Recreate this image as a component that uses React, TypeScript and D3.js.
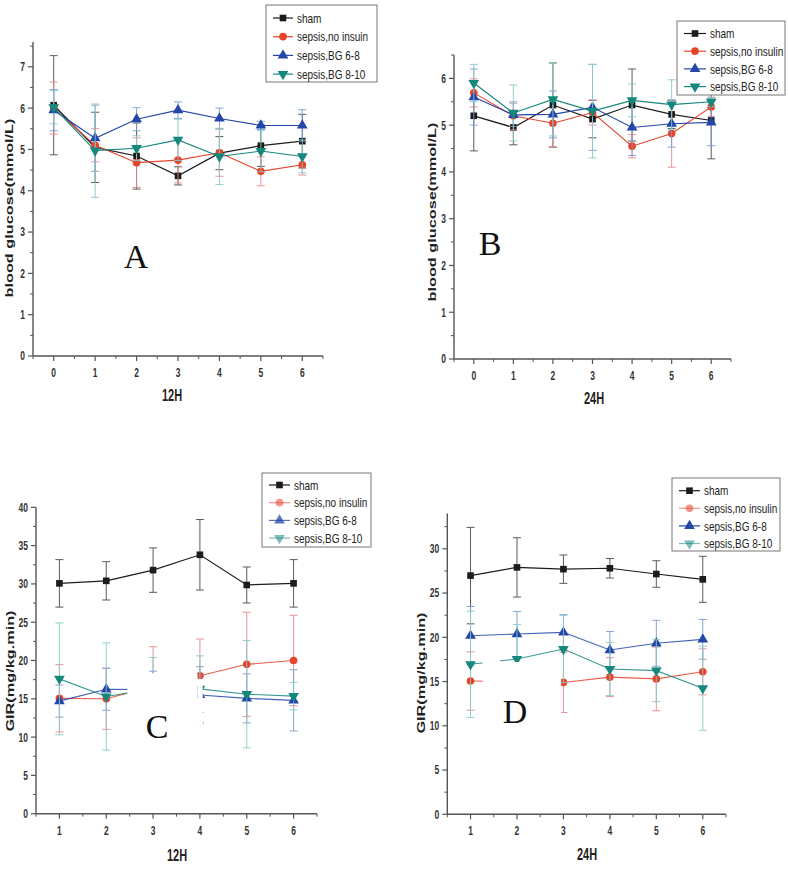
import React from 'react';
import * as d3 from 'd3';

// ---------- DATA ----------
const SERIES_NAMES_A = ['sham', 'sepsis,no insuin', 'sepsis,BG 6-8', 'sepsis,BG 8-10'];
const SERIES_NAMES = ['sham', 'sepsis,no insulin', 'sepsis,BG 6-8', 'sepsis,BG 8-10'];

// Panel A: blood glucose, 12H
const A_X = [0, 1, 2, 3, 4, 5, 6];
const A_SHAM = [6.07, 5.05, 4.84, 4.36, 4.91, 5.09, 5.2];
const A_SHAM_SD = [1.2, 0.85, 0.8, 0.22, 0.4, 0.5, 0.65];
const A_NOINS = [6.0, 5.1, 4.68, 4.74, 4.92, 4.47, 4.63];
const A_NOINS_SD = [0.63, 0.4, 0.6, 0.55, 0.57, 0.35, 0.25];
const A_BG68 = [5.95, 5.27, 5.73, 5.95, 5.75, 5.58, 5.58];
const A_BG68_SD = [0.5, 0.8, 0.28, 0.2, 0.25, 0.1, 0.38];
const A_BG810 = [6.02, 4.97, 5.03, 5.23, 4.83, 4.96, 4.83];
const A_BG810_SD = [0.4, 1.13, 0.3, 0.5, 0.68, 0.5, 0.4];
const A_Y_TICKS = [0, 1, 2, 3, 4, 5, 6, 7];
const A_X_TICKS = [0, 1, 2, 3, 4, 5, 6];

// Panel B: blood glucose, 24H
const B_X = [0, 1, 2, 3, 4, 5, 6];
const B_SHAM = [5.2, 4.95, 5.43, 5.13, 5.43, 5.23, 5.1];
const B_SHAM_SD = [0.75, 0.37, 0.9, 0.4, 0.77, 0.3, 0.82];
const B_NOINS = [5.69, 5.2, 5.04, 5.27, 4.55, 4.82, 5.39];
const B_NOINS_SD = [0.3, 0.3, 0.5, 0.27, 0.25, 0.72, 0.2];
const B_BG68 = [5.6, 5.22, 5.23, 5.38, 4.95, 5.03, 5.06];
const B_BG68_SD = [0.6, 0.25, 0.5, 0.92, 0.6, 0.5, 0.5];
const B_BG810 = [5.9, 5.26, 5.55, 5.3, 5.53, 5.44, 5.5];
const B_BG810_SD = [0.4, 0.6, 0.78, 1.0, 0.35, 0.53, 0.1];
const B_Y_TICKS = [0, 1, 2, 3, 4, 5, 6];
const B_X_TICKS = [0, 1, 2, 3, 4, 5, 6];

// Panel C: GIR, 12H
const C_X = [1, 2, 3, 4, 5, 6];
const C_SHAM = [30.07, 30.4, 31.8, 33.8, 29.86, 30.07];
const C_SHAM_SD = [3.1, 2.5, 2.9, 4.6, 2.35, 3.1];
const C_NOINS = [15.06, 15.0, 16.6, 18.0, 19.5, 20.0];
const C_NOINS_SD = [4.4, 4.0, 5.2, 4.8, 6.8, 5.9];
const C_BG68 = [14.7, 16.24, 16.2, 15.5, 15.06, 14.8];
const C_BG68_SD = [2.1, 2.75, 2.4, 3.7, 3.2, 4.0];
const C_BG810 = [17.6, 15.3, 16.3, 16.3, 15.6, 15.35];
const C_BG810_SD = [7.3, 7.0, 4.1, 4.3, 7.0, 1.8];
const C_Y_TICKS = [0, 5, 10, 15, 20, 25, 30, 35, 40];
const C_X_TICKS = [1, 2, 3, 4, 5, 6];
// regions blanked out in the original figure (data units: x range, y range)
const C_ERASED = [
  { x: [2.45, 3.95], y: [10.3, 18.3] },
  { x: [3.95, 4.06], y: [10.3, 17.55] },
];

// Panel D: GIR, 24H
const D_X = [1, 2, 3, 4, 5, 6];
const D_SHAM = [26.97, 27.9, 27.7, 27.8, 27.15, 26.55];
const D_SHAM_SD = [5.45, 3.35, 1.6, 1.1, 1.5, 2.6];
const D_NOINS = [15.06, 15.0, 14.9, 15.5, 15.3, 16.1];
const D_NOINS_SD = [3.3, 1.0, 3.4, 2.2, 3.6, 2.6];
const D_BG68 = [20.18, 20.37, 20.56, 18.56, 19.32, 19.77];
const D_BG68_SD = [3.3, 2.55, 2.0, 2.1, 2.6, 2.25];
const D_BG810 = [16.95, 17.55, 18.68, 16.42, 16.23, 14.24];
const D_BG810_SD = [6.0, 3.9, 3.8, 3.0, 3.5, 4.75];
const D_Y_TICKS = [0, 5, 10, 15, 20, 25, 30];
const D_X_TICKS = [1, 2, 3, 4, 5, 6];
const D_ERASED = [
  { x: [1.26, 1.63], y: [12, 18.6] },
  { x: [1.63, 2.95], y: [10, 17.2] },
];

// ---------- STYLE ----------
const SANS = '"Liberation Sans", Arial, Helvetica, sans-serif';
const SERIF = '"Liberation Serif", "Times New Roman", serif';
const COLORS = ['#1c1c1c', '#e8432b', '#2346a8', '#16877d'];
const ERR_COLORS = ['#4a4a4a', '#e88a8a', '#7e9ad2', '#86cccc'];
const SYMBOLS = [d3.symbolSquare, d3.symbolCircle, d3.symbolTriangle, d3.symbolTriangle];
const SYM_ROT = [0, 0, 0, 180];
const SYM_SIZE = [44, 46, 50, 50];
const AXIS_COLOR = '#555';

function STxt({ x, y, size, sy = 1, weight = 'normal', anchor = 'start', fill = '#222', family = SANS, rotate = 0, children }: any) {
  const tr = rotate ? `translate(${x},${y}) scale(1,${sy}) rotate(${rotate})` : `translate(${x},${y}) scale(1,${sy})`;
  return (
    <text transform={tr} fontSize={size} fontWeight={weight} textAnchor={anchor} fill={fill} fontFamily={family}>
      {children}
    </text>
  );
}

function Marker({ cx, cy, i, opacity = 1 }: any) {
  const path = d3.symbol().type(SYMBOLS[i]).size(SYM_SIZE[i])() as string;
  return (
    <path d={path} transform={`translate(${cx},${cy}) rotate(${SYM_ROT[i]})`} fill={COLORS[i]} opacity={opacity} />
  );
}

function Panel({ p }: any) {
  const x = d3.scaleLinear().domain(p.xDomain).range([p.left, p.right]);
  const y = d3.scaleLinear().domain(p.yDomain).range([p.bottom, p.top]);
  const line = d3.line<[number, number]>().x((d) => x(d[0])).y((d) => y(d[1]));

  const xMinor = d3.range(p.xDomain[0], p.xDomain[1] + 1e-6, 0.5).filter((v) => Math.abs(v - Math.round(v)) > 1e-6);
  const yStep = p.yTicks[1] - p.yTicks[0];
  const yMinor = d3.range(yStep / 2, p.yDomain[1] + 1e-6, yStep).filter((v) => !p.yTicks.includes(v));
  const y0 = y(p.yDomain[0]);
  const xl = x(p.xDomain[0]);
  const tickSize = 8.5;
  const tickSy = 1.45;
  const capH = 0.716 * tickSize * tickSy;

  return (
    <g>
      {/* axes */}
      <line x1={xl} x2={xl} y1={y0} y2={y(p.yDomain[1])} stroke={AXIS_COLOR} strokeWidth={1.4} />
      <line x1={xl} x2={x(p.xDomain[1])} y1={y0} y2={y0} stroke={AXIS_COLOR} strokeWidth={1.4} />
      {p.yTicks.map((t: number) => (
        <g key={'yt' + t}>
          <line x1={xl - 5} x2={xl} y1={y(t)} y2={y(t)} stroke={AXIS_COLOR} strokeWidth={1.2} />
          <STxt x={xl - 8} y={y(t) + capH / 2} size={tickSize} sy={tickSy} weight="bold" anchor="end" fill="#333">
            {t}
          </STxt>
        </g>
      ))}
      {yMinor.map((t: number) => (
        <line key={'ym' + t} x1={xl - 3} x2={xl} y1={y(t)} y2={y(t)} stroke={AXIS_COLOR} strokeWidth={1} />
      ))}
      {p.xTicks.map((t: number) => (
        <g key={'xt' + t}>
          <line x1={x(t)} x2={x(t)} y1={y0} y2={y0 + 5} stroke={AXIS_COLOR} strokeWidth={1.2} />
          <STxt x={x(t)} y={y0 + 21} size={tickSize} sy={tickSy} weight="bold" anchor="middle" fill="#333">
            {t}
          </STxt>
        </g>
      ))}
      {xMinor.map((t: number) => (
        <line key={'xm' + t} x1={x(t)} x2={x(t)} y1={y0} y2={y0 + 3} stroke={AXIS_COLOR} strokeWidth={1} />
      ))}

      {/* axis titles */}
      <STxt x={p.xTitlePos[0]} y={p.xTitlePos[1]} size={11} sy={1.55} weight="bold" anchor="middle" fill="#222">
        {p.xTitle}
      </STxt>
      <STxt x={p.yTitlePos[0]} y={p.yTitlePos[1]} size={10.5} sy={1.55} weight="bold" anchor="middle" fill="#222" rotate={-90}>
        {p.yTitle}
      </STxt>

      {/* series */}
      {p.series.map((s: any, i: number) => {
        const pts: [number, number][] = p.xs.map((xv: number, k: number) => [xv, s.mean[k]]);
        return (
          <g key={'s' + i}>
            {pts.map(([xv, m], k) => {
              const sd = s.sd[k];
              const X = x(xv);
              return (
                <g key={k} stroke={ERR_COLORS[i]} strokeWidth={1} opacity={0.9}>
                  <line x1={X} x2={X} y1={y(m - sd)} y2={y(m + sd)} />
                  <line x1={X - 4} x2={X + 4} y1={y(m - sd)} y2={y(m - sd)} />
                  <line x1={X - 4} x2={X + 4} y1={y(m + sd)} y2={y(m + sd)} />
                </g>
              );
            })}
            <path d={line(pts) as string} fill="none" stroke={COLORS[i]} strokeWidth={i === 0 ? 1.2 : 1.1} opacity={p.faintLines && i > 0 ? 0.85 : 1} />
            {pts.map(([xv, m], k) => (
              <Marker key={'m' + k} cx={x(xv)} cy={y(m)} i={i} />
            ))}
          </g>
        );
      })}

      {/* erased regions of the original figure */}
      {(p.erased || []).map((r: any, k: number) => (
        <rect key={'er' + k} x={x(r.x[0])} y={y(r.y[1])} width={x(r.x[1]) - x(r.x[0])} height={y(r.y[0]) - y(r.y[1])} fill="#fff" />
      ))}

      {/* legend */}
      <rect x={p.legend.x} y={p.legend.y} width={p.legend.w} height={p.legend.h} fill="#fff" stroke="#777" strokeWidth={1} />
      {p.names.map((n: string, i: number) => {
        const ry = p.legend.y + p.legend.row0 + i * p.legend.step;
        const lx = p.legend.x + p.legend.lineX;
        const op = p.legend.op[i];
        return (
          <g key={'lg' + i}>
            <line x1={lx} x2={lx + p.legend.lineW} y1={ry} y2={ry} stroke={COLORS[i]} strokeWidth={1.2} opacity={op} />
            <Marker cx={lx + p.legend.lineW / 2} cy={ry} i={i} opacity={op} />
            <STxt x={lx + p.legend.lineW + 4} y={ry + 4.7} size={10} sy={1.3} fill="#222">
              {n}
            </STxt>
          </g>
        );
      })}

      {/* panel letter */}
      <text x={p.letterPos[0]} y={p.letterPos[1]} fontFamily={SERIF} fontSize={34} textAnchor="middle" fill="#111">
        {p.letter}
      </text>
    </g>
  );
}

const mk = (means: number[][], sds: number[][]) => means.map((m, i) => ({ mean: m, sd: sds[i] }));

const PANELS = [
  {
    letter: 'A', letterPos: [136, 268],
    xs: A_X, xTicks: A_X_TICKS, yTicks: A_Y_TICKS,
    xDomain: [-0.5, 6.5], yDomain: [0, 7.6],
    left: 33, right: 323, bottom: 356, top: 42,
    xTitle: '12H', xTitlePos: [172, 401],
    yTitle: 'blood glucose(mmol/L)', yTitlePos: [13, 208],
    series: mk([A_SHAM, A_NOINS, A_BG68, A_BG810], [A_SHAM_SD, A_NOINS_SD, A_BG68_SD, A_BG810_SD]),
    names: SERIES_NAMES_A,
    legend: { x: 266, y: 5, w: 111, h: 77, row0: 13, step: 18.7, lineX: 7, lineW: 20, op: [1, 1, 1, 1] },
  },
  {
    letter: 'B', letterPos: [490, 255],
    xs: B_X, xTicks: B_X_TICKS, yTicks: B_Y_TICKS,
    xDomain: [-0.5, 6.5], yDomain: [0, 6.5],
    left: 454, right: 731, bottom: 359, top: 55,
    xTitle: '24H', xTitlePos: [594, 404],
    yTitle: 'blood glucose(mmol/L)', yTitlePos: [436, 212],
    series: mk([B_SHAM, B_NOINS, B_BG68, B_BG810], [B_SHAM_SD, B_NOINS_SD, B_BG68_SD, B_BG810_SD]),
    names: SERIES_NAMES,
    legend: { x: 677, y: 21, w: 108, h: 74, row0: 12.5, step: 17.7, lineX: 7, lineW: 22, op: [1, 1, 1, 1] },
  },
  {
    letter: 'C', letterPos: [157, 738],
    xs: C_X, xTicks: C_X_TICKS, yTicks: C_Y_TICKS,
    xDomain: [0.5, 6.5], yDomain: [0, 40],
    left: 36, right: 317, bottom: 813.7, top: 507.3,
    xTitle: '12H', xTitlePos: [177, 861],
    yTitle: 'GIR(mg/kg.min)', yTitlePos: [14, 671],
    series: mk([C_SHAM, C_NOINS, C_BG68, C_BG810], [C_SHAM_SD, C_NOINS_SD, C_BG68_SD, C_BG810_SD]),
    names: SERIES_NAMES, erased: C_ERASED, faintLines: true,
    legend: { x: 262, y: 473, w: 109, h: 74, row0: 12, step: 17.7, lineX: 7, lineW: 21, op: [1, 0.55, 0.75, 0.55] },
  },
  {
    letter: 'D', letterPos: [515, 723],
    xs: D_X, xTicks: D_X_TICKS, yTicks: D_Y_TICKS,
    xDomain: [0.5, 6.5], yDomain: [0, 34],
    left: 447.3, right: 726, bottom: 814.3, top: 513.4,
    xTitle: '24H', xTitlePos: [587, 860],
    yTitle: 'GIR(mg/kg.min)', yTitlePos: [425, 673],
    series: mk([D_SHAM, D_NOINS, D_BG68, D_BG810], [D_SHAM_SD, D_NOINS_SD, D_BG68_SD, D_BG810_SD]),
    names: SERIES_NAMES, erased: D_ERASED, faintLines: true,
    legend: { x: 672, y: 478, w: 108, h: 73, row0: 12.7, step: 17.6, lineX: 7, lineW: 21, op: [1, 0.55, 1, 0.55] },
  },
];

export default function App() {
  return (
    <svg width={788} height={870} style={{ position: 'absolute', left: 0, top: 0, background: '#fff' }}>
      <rect x={0} y={0} width={788} height={870} fill="#fff" />
      {PANELS.map((p) => (
        <Panel key={p.letter} p={p} />
      ))}
    </svg>
  );
}
